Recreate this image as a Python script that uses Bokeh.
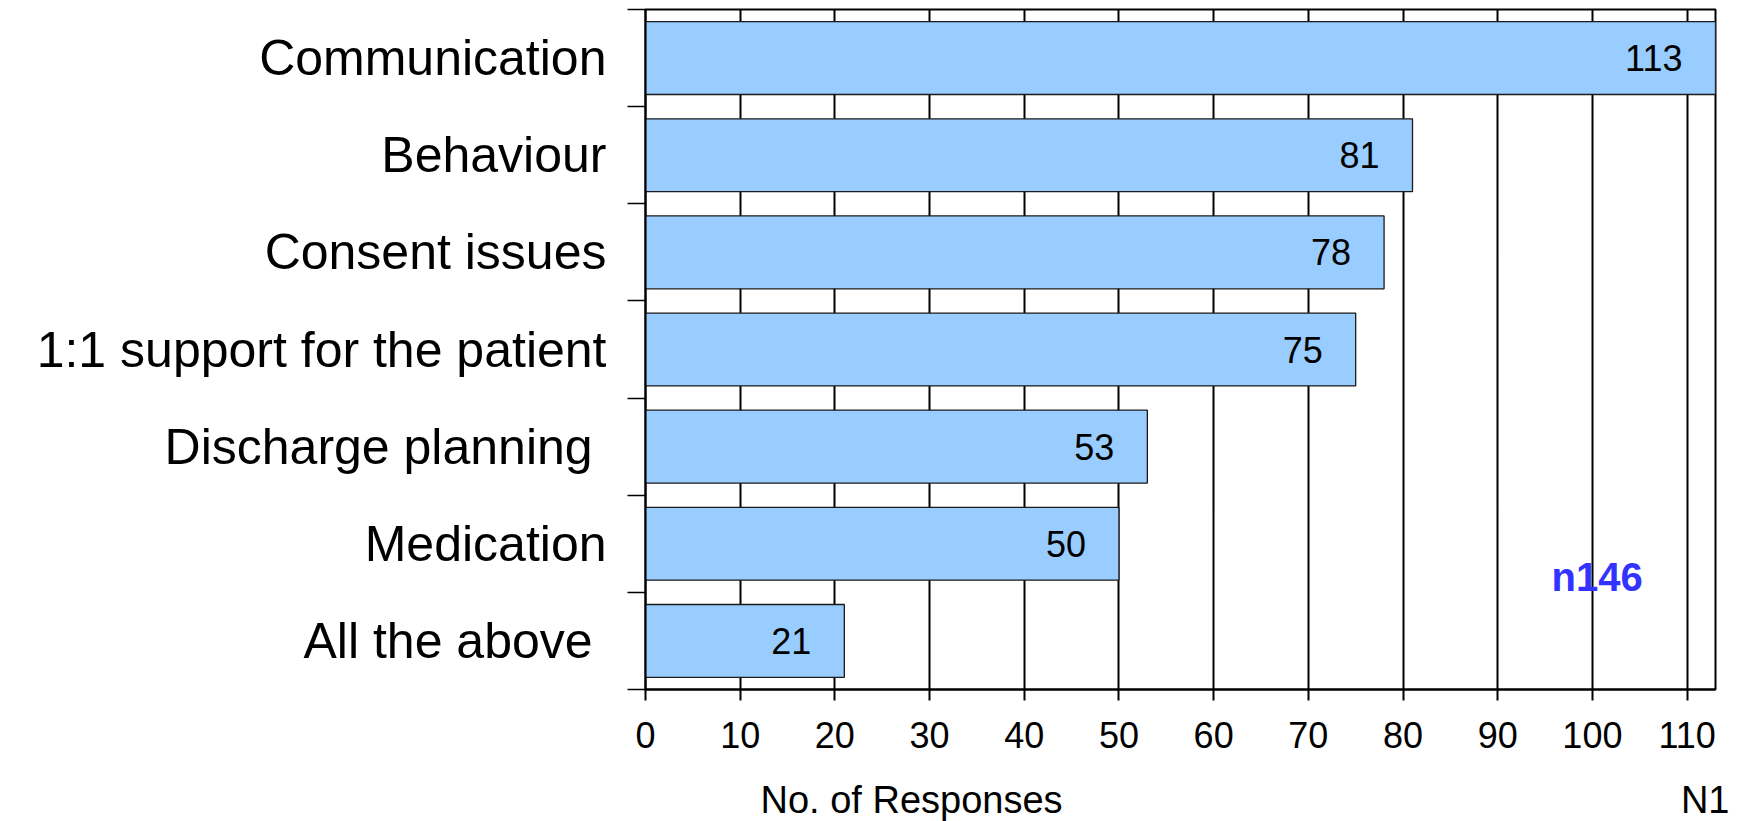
from bokeh.plotting import figure
from bokeh.models import ColumnDataSource, FixedTicker, Range1d, Label, LinearAxis
from bokeh.core.properties import value
from bokeh.embed import file_html
from bokeh.resources import INLINE

# ---- data ----
categories = ["All the above ", "Medication", "Discharge planning ",
              "1:1 support for the patient", "Consent issues", "Behaviour",
              "Communication"]
responses = [21, 50, 53, 75, 78, 81, 113]
x_ticks = [0, 10, 20, 30, 40, 50, 60, 70, 80, 90, 100, 110]
sample_note = "n146"
x_label = "No. of Responses"
corner_note = "N1"
# positions (in x-axis units) of the two texts printed under the axis
note_positions = [28.1, 112.5]

FONT = "Liberation Sans"

ypos = [i + 0.5 for i in range(len(categories))]
src = ColumnDataSource(dict(y=ypos, v=responses, lab=[str(r) for r in responses]))

p = figure(frame_width=1070, frame_height=680, output_backend="svg",
           toolbar_location=None,
           x_range=Range1d(0, 113), y_range=Range1d(0, len(categories)),
           min_border_left=645, min_border_right=14, min_border_top=9,
           min_border_bottom=120)
p.background_fill_color = "white"
p.border_fill_color = "white"
p.outline_line_color = "black"
p.outline_line_width = 2

# grid
p.ygrid.visible = False
p.xgrid.ticker = FixedTicker(ticks=x_ticks)
p.xgrid.grid_line_color = "black"
p.xgrid.grid_line_width = 2
p.xgrid.grid_line_alpha = 1

# bars
p.hbar(y="y", right="v", left=0, height=0.75, source=src,
       fill_color="#99CCFF", line_color="#1a1a1a", line_width=1.3)

# value labels
p.text(x="v", y="y", text="lab", source=src, x_offset=-33,
       text_align="right", text_baseline="middle",
       text_font=value(FONT), text_font_size="36px", text_color="black")

# x axis
xa = p.xaxis[0]
xa.ticker = FixedTicker(ticks=x_ticks)
xa.axis_line_color = "black"
xa.axis_line_width = 2
xa.major_tick_out = 11
xa.major_tick_in = 0
xa.major_tick_line_width = 2
xa.minor_tick_line_color = None
xa.major_label_text_font = FONT
xa.major_label_text_font_size = "36px"
xa.major_label_text_color = "black"
xa.major_label_standoff = 21

# second row of texts under the axis
p.extra_x_ranges = {"notes": Range1d(0, 113)}
na = LinearAxis(x_range_name="notes",
                ticker=FixedTicker(ticks=note_positions),
                major_label_overrides={note_positions[0]: x_label,
                                       note_positions[1]: corner_note})
na.axis_line_color = None
na.major_tick_line_color = None
na.minor_tick_line_color = None
na.major_tick_out = 0
na.major_tick_in = 0
na.major_label_text_font = FONT
na.major_label_text_font_size = "38px"
na.major_label_text_color = "black"
na.major_label_standoff = 28
p.add_layout(na, "below")

# y axis
ya = p.yaxis[0]
ya.ticker = FixedTicker(ticks=ypos, minor_ticks=list(range(len(categories) + 1)))
ya.major_label_overrides = {y: c for y, c in zip(ypos, categories)}
ya.axis_line_color = "black"
ya.axis_line_width = 2
ya.major_tick_out = 0
ya.major_tick_in = 0
ya.major_tick_line_color = None
ya.minor_tick_out = 18
ya.minor_tick_in = 0
ya.minor_tick_line_width = 1.5
ya.minor_tick_line_color = "black"
ya.major_label_text_font = FONT
ya.major_label_text_font_size = "50px"
ya.major_label_text_color = "black"
ya.major_label_standoff = 21

# annotation inside the plot
p.add_layout(Label(x=100.5, y=1.16, text=sample_note, text_align="center",
                   text_baseline="middle", text_font=FONT, text_font_size="40px",
                   text_font_style="bold", text_color="#3333FF"))

open("out.html", "w").write(file_html(p, INLINE))
